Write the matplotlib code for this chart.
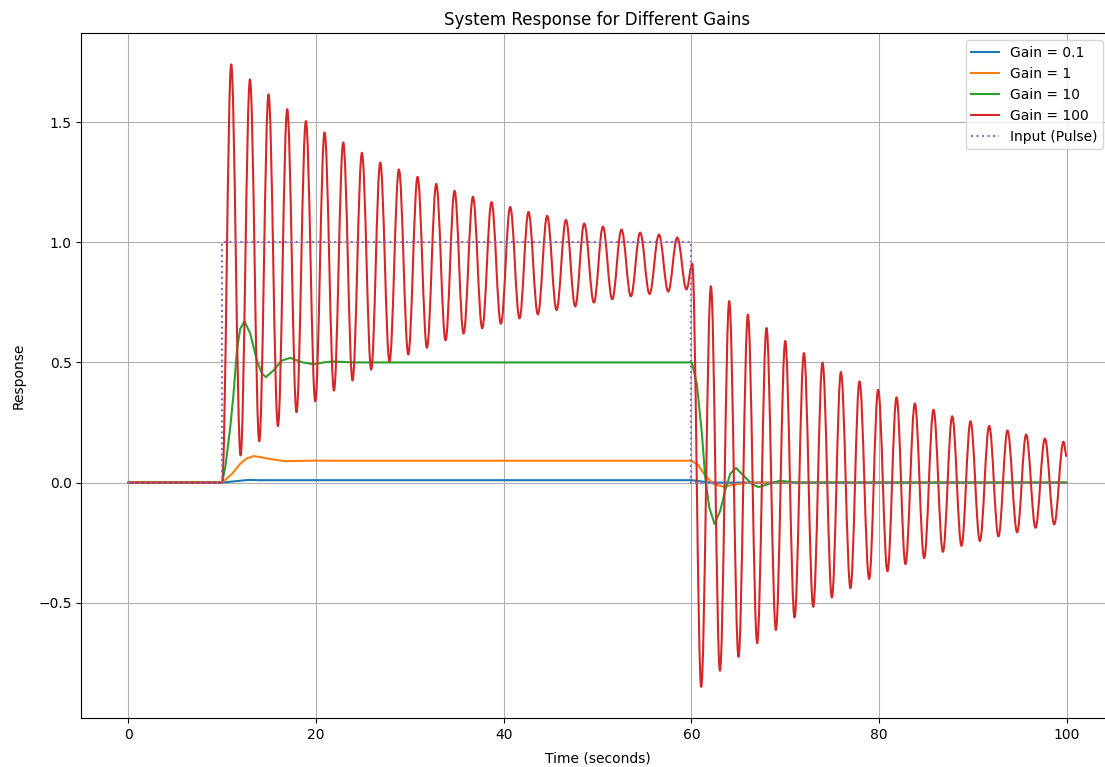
import numpy as np
import matplotlib
matplotlib.use("Agg")
import matplotlib.pyplot as plt
from matplotlib.path import Path
from matplotlib.patches import PathPatch

# values (time in s, response)
blue_t = [0, 10, 11.4, 12.8, 14, 60.06, 61.0, 61.84, 63, 100]
blue_y = [0, 0, 0.0056, 0.011, 0.0099, 0.0099, 0.005, 0.001, 0, 0]

orange_t = [0, 10, 11.05, 11.93, 12.6, 13.35, 14.1, 14.95, 16.73, 19.93, 22, 60.06,
            60.77, 61.48, 62.37, 63.43, 64.68, 66.1, 100]
orange_y = [0, 0, 0.036, 0.078, 0.1, 0.11, 0.106, 0.099, 0.089, 0.0915, 0.091, 0.091,
            0.071, 0.029, -0.006, -0.017, -0.008, 0.0, 0]

green_t = [0, 10, 10.34, 10.87, 11.22, 11.58, 11.93, 12.39, 13.0, 13.71, 14.25, 14.67,
           15.48, 16.37, 17.26, 18.5, 19.75, 20.99, 21.88, 24, 60.06,
           60.59, 61.13, 61.48, 61.91, 62.47, 63.08, 63.61, 64.14, 64.75, 65.56,
           66.46, 67.16, 68.23, 69.47, 71.07, 100]
green_y = [0, 0, 0.064, 0.23, 0.37, 0.55, 0.64, 0.671, 0.62, 0.508, 0.453, 0.439,
           0.467, 0.508, 0.519, 0.501, 0.492, 0.501, 0.504, 0.5, 0.5,
           0.41, 0.203, 0.022, -0.103, -0.172, -0.117, -0.033, 0.036, 0.061, 0.029,
           -0.006, -0.019, -0.006, 0.008, 0.0, 0]

# gain 100: start, then peaks / troughs of the oscillation
red_t = [0, 10,
         10.97, 11.97, 12.97, 13.96, 14.95, 15.95, 16.94, 17.93, 18.93, 19.93,
         20.92, 21.92, 22.91, 23.90, 24.90, 25.89, 26.85, 27.84, 28.84, 29.84,
         30.83, 31.83, 32.82, 33.81, 34.77, 35.73, 36.73, 37.72, 38.71, 39.71,
         40.70, 41.69, 42.65, 43.65, 44.64, 45.64, 46.64, 47.63, 48.59, 49.62,
         50.58, 51.57, 52.56, 53.56, 54.55, 55.55, 56.55, 57.54, 58.50, 59.49,
         60.10,
         61.05, 62.09, 63.05, 64.04, 65.03, 66.03, 67.02, 68.01, 69.01, 70.01,
         71.00, 72.00, 72.99, 73.98, 74.98, 75.94, 76.96, 77.92, 78.95, 79.91,
         80.90, 81.87, 82.82, 83.82, 84.81, 85.81, 86.81, 87.80, 88.79, 89.75,
         90.75, 91.74, 92.73, 93.69, 94.72, 95.68, 96.68, 97.68, 98.67, 99.66,
         100]
red_y = [0, 0,
         1.740, 0.113, 1.678, 0.172, 1.615, 0.235, 1.554, 0.293, 1.504, 0.338,
         1.457, 0.383, 1.415, 0.425, 1.372, 0.470, 1.332, 0.504, 1.303, 0.533,
         1.272, 0.561, 1.243, 0.592, 1.214, 0.620, 1.189, 0.642, 1.167, 0.661,
         1.147, 0.683, 1.126, 0.700, 1.110, 0.718, 1.093, 0.733, 1.078, 0.749,
         1.065, 0.763, 1.053, 0.775, 1.040, 0.785, 1.032, 0.795, 1.020, 0.804,
         0.911,
         -0.850, 0.817, -0.783, 0.755, -0.725, 0.699, -0.668, 0.643, -0.613, 0.589,
         -0.561, 0.539, -0.517, 0.499, -0.478, 0.460, -0.439, 0.421, -0.401, 0.386,
         -0.369, 0.355, -0.339, 0.329, -0.314, 0.303, -0.288, 0.276, -0.263, 0.255,
         -0.243, 0.236, -0.224, 0.217, -0.207, 0.200, -0.188, 0.183, -0.174, 0.170,
         0.108]

pulse_t = [0, 10, 10, 60, 60, 100]
pulse_y = [0, 0, 1, 1, 0, 0]

fig = plt.figure(figsize=(11.05, 7.67), dpi=100)
plt.subplots_adjust(left=0.0736, right=1.0078, top=0.9566, bottom=0.0639)
ax = plt.gca()

plt.plot(blue_t, blue_y, label="Gain = 0.1")
plt.plot(orange_t, orange_y, label="Gain = 1")
plt.plot(green_t, green_y, label="Gain = 10")

# red line: smooth curve between the read extrema (flat tangent at each one)
verts = [(red_t[0], red_y[0])]
codes = [Path.MOVETO]
for i in range(1, len(red_t)):
    t0, y0 = red_t[i - 1], red_y[i - 1]
    t1, y1 = red_t[i], red_y[i]
    dt = t1 - t0
    verts += [(t0 + 0.364 * dt, y0), (t1 - 0.364 * dt, y1), (t1, y1)]
    codes += [Path.CURVE4] * 3
red_line, = plt.plot([], [], label="Gain = 100")
ax.add_patch(PathPatch(Path(verts, codes), fill=False, edgecolor=red_line.get_color(),
                       lw=1.5, zorder=2, joinstyle="round"))

plt.plot(pulse_t, pulse_y, ":", label="Input (Pulse)")

plt.title("System Response for Different Gains")
plt.xlabel("Time (seconds)", labelpad=7)
plt.ylabel("Response", labelpad=9)
plt.legend(loc="upper right", bbox_to_anchor=(0.9965, 1.0))
plt.grid(True)

fig.savefig("out.png", dpi=100)
